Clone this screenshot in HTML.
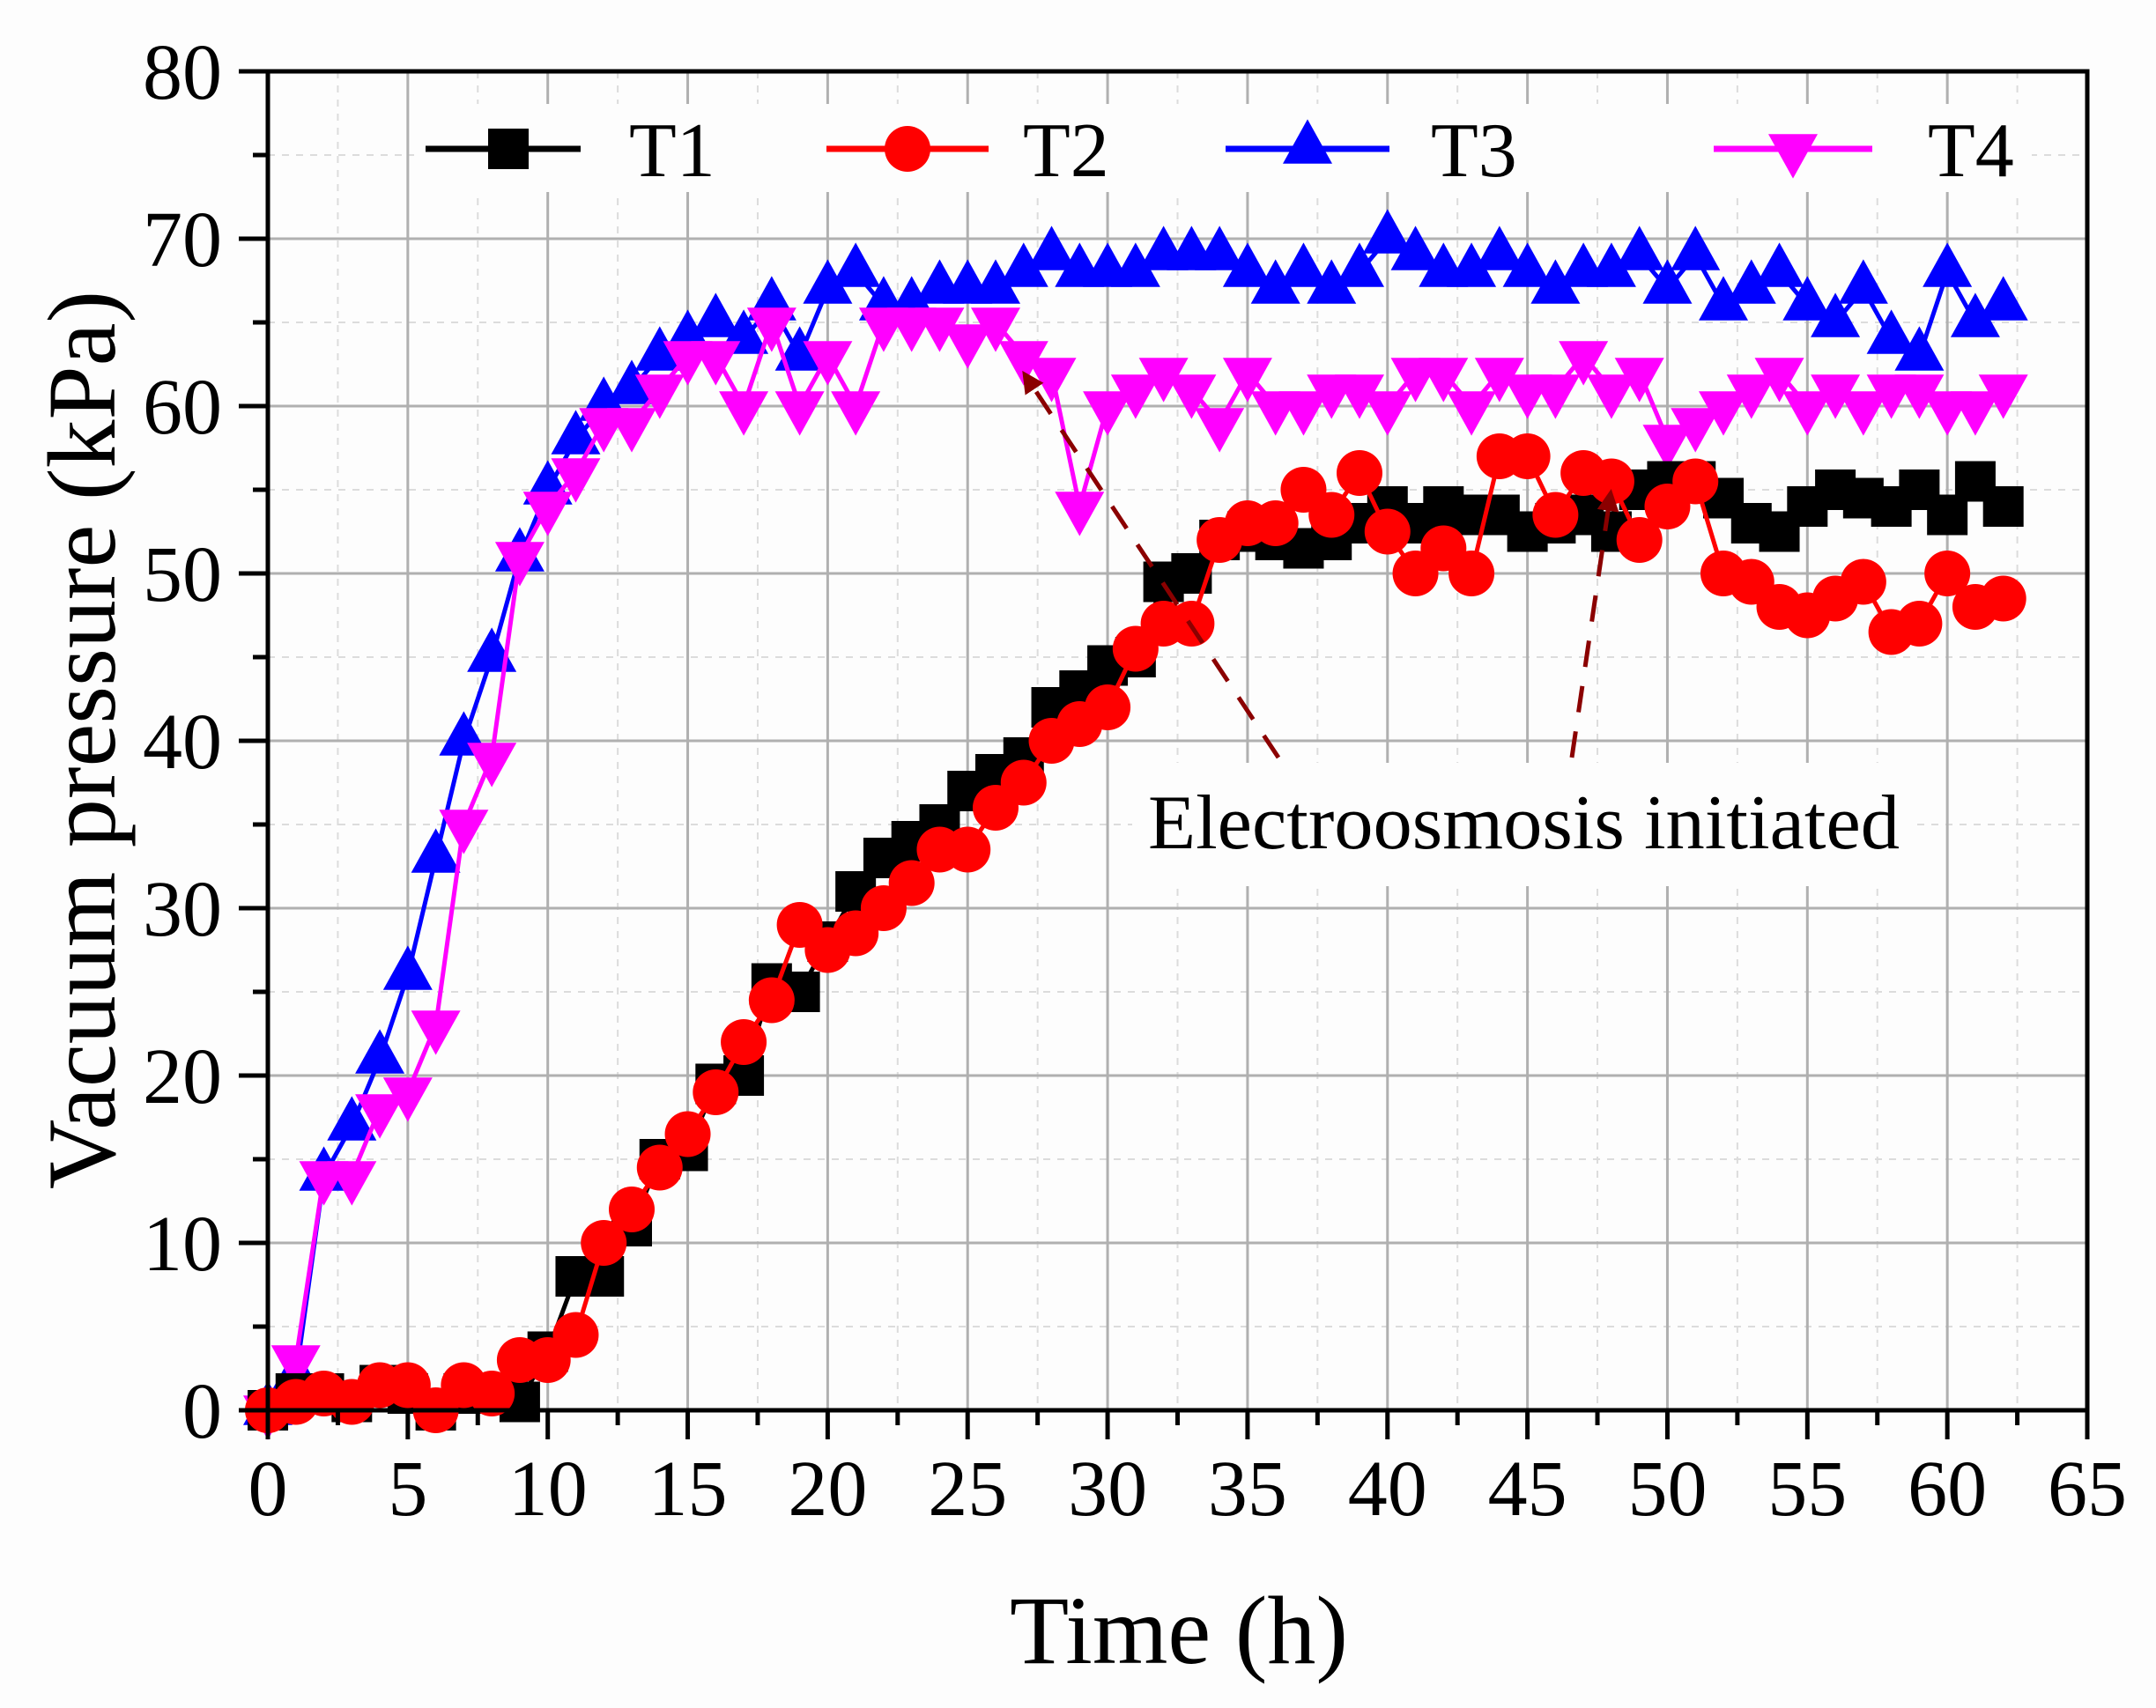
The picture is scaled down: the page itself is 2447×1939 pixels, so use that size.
<!DOCTYPE html>
<html><head><meta charset="utf-8"><style>
html,body{margin:0;padding:0;background:#fdfdfd;}
svg{display:block;font-family:"Liberation Serif",serif;}
</style></head><body>
<svg id="chart" width="2447" height="1939" viewBox="0 0 2447 1939" xmlns="http://www.w3.org/2000/svg">
<rect x="0" y="0" width="2447" height="1939" fill="#fdfdfd"/>
<g id="grid"></g>
<rect x="470" y="118" width="1836" height="100" fill="#fdfdfd"/>
<rect x="1285" y="866" width="885" height="140" fill="#fdfdfd"/>
<g id="series"></g>
<g id="axes"></g>
<g id="legend"></g>
<g id="annot">
<defs><marker id="ah" markerWidth="5" markerHeight="5" refX="4" refY="2.5" orient="auto"><path d="M0,0 L5,2.5 L0,5 z" fill="#8b0000"/></marker></defs>
<line x1="1451" y1="860" x2="1163" y2="425" stroke="#8b0000" stroke-width="5" stroke-dasharray="30,22" marker-end="url(#ah)"/>
<line x1="1784" y1="860" x2="1828" y2="560" stroke="#8b0000" stroke-width="5" stroke-dasharray="30,22" marker-end="url(#ah)"/>
<text x="1303" y="963" font-size="88" textLength="853" lengthAdjust="spacingAndGlyphs" fill="#000">Electroosmosis initiated</text>
</g>
<text x="1338" y="1888" font-size="110" text-anchor="middle" fill="#000">Time (h)</text>
<text transform="translate(130,840) rotate(-90)" font-size="110" text-anchor="middle" fill="#000">Vacuum pressure (kPa)</text>
</svg>
<script>
const hours = Array.from({length:63},(_, i)=>i);
const t1 = [0,1,1,0.5,1.5,1,0,1,1,0.5,3.5,8,8,11,15,15.5,19.5,20,25.5,25,28,31,33,34,35,37,38,39,42,43,44.5,45,49.5,50,52,52.5,52,51.5,52,53,54,53,54,53.5,53.5,52.5,53,53.5,52.5,55,55.5,55.5,54.5,53,52.5,54,55,54.5,54,55,53.5,55.5,54];
const t2 = [0,0.5,1,0.5,1.5,1.5,0,1.5,1,3,3,4.5,10,12,14.5,16.5,19,22,24.5,29,27.5,28.5,30,31.5,33.5,33.5,36,37.5,40,41,42,45.5,47,47,52,53,53,55,53.5,56,52.5,50,51.5,50,57,57,53.5,56,55.5,52,54,55.5,50,49.5,48,47.5,48.5,49.5,46.5,47,50,48,48.5];
const t3 = [0,2,14,17,21,26,33,40,45,51,55,58,60,61,63,64,65,64,66,63,67,68,66,66,67,67,67,68,69,68,68,68,69,69,69,68,67,68,67,68,70,69,68,68,69,68,67,68,68,69,67,69,66,67,68,66,65,67,64,63,68,65,66];
const t4 = [0,3,14,14,18,19,23,35,39,51,54,56,59,59,61,63,63,60,65,60,63,60,65,65,65,64,65,63,62,54,60,61,62,61,59,62,60,60,61,61,60,62,62,60,62,61,61,63,61,62,58,59,60,61,62,60,61,60,61,61,60,60,61];
const xTicks = [0,5,10,15,20,25,30,35,40,45,50,55,60,65];
const yTicks = [0,10,20,30,40,50,60,70,80];
const seriesNames = ["T1","T2","T3","T4"];

const X0=304, X1=2369, Y0=1601, Y1=81;
const sx = v => X0 + (v/65)*(X1-X0);
const sy = v => Y0 - (v/80)*(Y0-Y1);
const NS="http://www.w3.org/2000/svg";
function mk(tag, attrs, parent){const e=document.createElementNS(NS,tag);for(const k in attrs)e.setAttribute(k,attrs[k]);parent.appendChild(e);return e;}

const grid=document.getElementById('grid');
for(let v=2.5; v<65; v+=5){const l=mk('line',{x1:sx(v),x2:sx(v),y1:Y1,y2:Y0,stroke:'#dcdcdc','stroke-width':2,'stroke-dasharray':'8,8'},grid);

}
for(let v=5; v<80; v+=10){const l=mk('line',{x1:X0,x2:X1,y1:sy(v),y2:sy(v),stroke:'#dcdcdc','stroke-width':2,'stroke-dasharray':'8,8'},grid);

}
xTicks.slice(1,-1).forEach(v=>{const l=mk('line',{x1:sx(v),x2:sx(v),y1:Y1,y2:Y0,stroke:'#b0b0b0','stroke-width':3},grid);

});
yTicks.slice(1,-1).forEach(v=>{const l=mk('line',{x1:X0,x2:X1,y1:sy(v),y2:sy(v),stroke:'#b0b0b0','stroke-width':3},grid);

});

const sg=document.getElementById('series');
function tri(x,y,s,down){const h=s*0.9;return down?`${x-s/2},${y-h/3} ${x+s/2},${y-h/3} ${x},${y+2*h/3}`:`${x-s/2},${y+h/3} ${x+s/2},${y+h/3} ${x},${y-2*h/3}`;}
function marker(type,x,y,color,parent){
 let e;
 if(type==='sq') e=mk('rect',{x:x-23,y:y-23,width:46,height:46,fill:color},parent);
 else if(type==='ci') e=mk('circle',{cx:x,cy:y,r:26,fill:color},parent);
 else e=mk('polygon',{points:tri(x,y,56,type==='dn'),fill:color},parent);
 return e;
}
const defs=[[t1,'#000','sq','t1'],[t2,'#ff0000','ci','t2'],[t3,'#0000ff','up','t3'],[t4,'#ff00ff','dn','t4']];
const order=[2,3,0,1];
order.forEach(i=>{
 const [data,color,type,nm]=defs[i];
 const g=mk('g',{},sg);
 
 
 const pts=data.map((v,j)=>sx(hours[j])+','+sy(v)).join(' ');
 const pl=mk('polyline',{points:pts,fill:'none',stroke:color,'stroke-width':5},g);
 
 
 data.forEach((v,j)=>{const m=marker(type,sx(hours[j]),sy(v),color,g);
 
 });
});

const ax=document.getElementById('axes');
const frame=mk('rect',{x:X0,y:Y1,width:X1-X0,height:Y0-Y1,fill:'none',stroke:'#000','stroke-width':5},ax);


for(let v=0; v<=65; v+=2.5){const major=(v%5===0);const t=mk('line',{x1:sx(v),x2:sx(v),y1:Y0,y2:Y0+(major?33:17),stroke:'#000','stroke-width':5},ax);

}
for(let v=0; v<=80; v+=5){const major=(v%10===0);const t=mk('line',{x1:X0,x2:X0-(major?33:17),y1:sy(v),y2:sy(v),stroke:'#000','stroke-width':5},ax);

}
xTicks.forEach(v=>{const t=mk('text',{x:sx(v),y:1720,'font-size':90,'text-anchor':'middle',fill:'#000'},ax);t.textContent=v;

});
yTicks.forEach(v=>{const t=mk('text',{x:252,y:sy(v)+31,'font-size':90,'text-anchor':'end',fill:'#000'},ax);t.textContent=v;

});

const lg=document.getElementById('legend');
const lpos=[[483,659,577,714],[938,1122,1030,1161],[1391,1577,1484,1624],[1945,2125,2035,2188]];
defs.forEach((d,i)=>{
 const [data,color,type,nm]=d;const [a,b,m,tx]=lpos[i];const y=169;
 const g=mk('g',{},lg);
 
 
 mk('line',{x1:a,x2:b,y1:y,y2:y,stroke:color,'stroke-width':7},g);
 marker(type,m,y,color,g);
 const t=mk('text',{x:tx,y:y+31,'font-size':88,fill:'#000'},g);t.textContent=seriesNames[i];
});
</script>
</body></html>
